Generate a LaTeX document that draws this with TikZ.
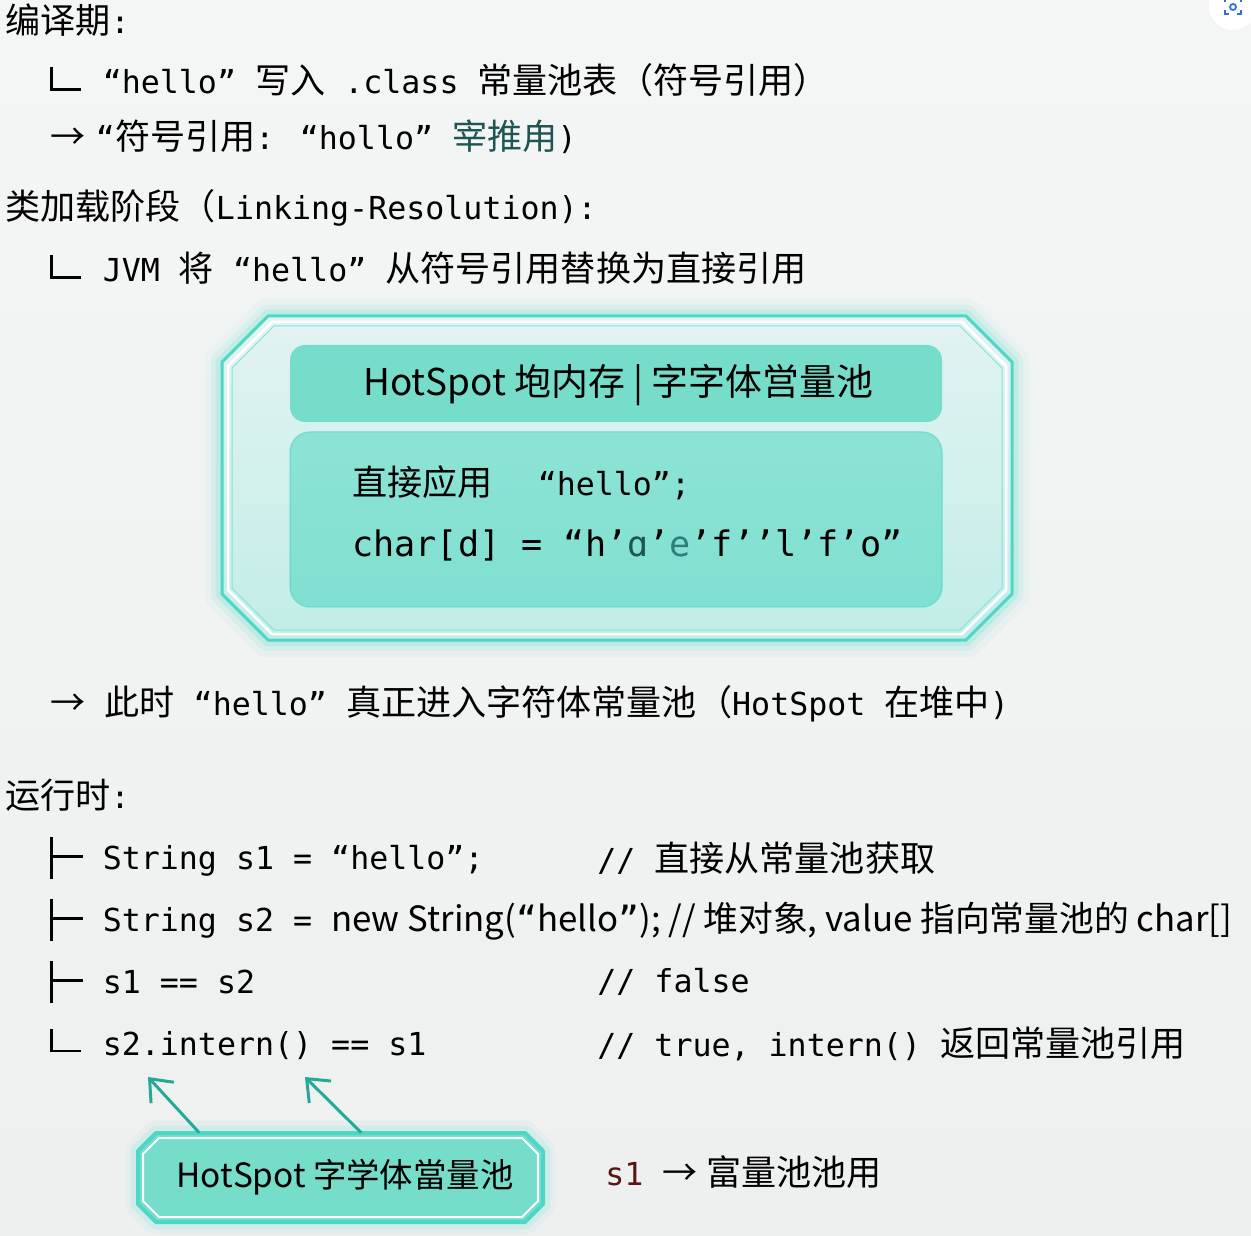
\documentclass[tikz,border=0pt]{standalone}
\usepackage{fontspec}
\setmainfont{DejaVu Sans Mono}
\newfontfamily\latinfont{DejaVu Sans Mono}
\newfontfamily\cjkfont{Noto Sans CJK SC}[Scale=1.11]
\newfontfamily\propfont{Noto Sans CJK SC}
\usepackage{tikz}
\usetikzlibrary{arrows.meta}

% switch to the CJK font for Chinese characters
\XeTeXinterchartokenstate=1
\newXeTeXintercharclass\cjkclass
\newcount\cjkidx
\cjkidx="3000
\loop \XeTeXcharclass\cjkidx=\cjkclass \ifnum\cjkidx<"303F \advance\cjkidx by 1 \repeat
\cjkidx="4E00
\loop \XeTeXcharclass\cjkidx=\cjkclass \ifnum\cjkidx<"9FFF \advance\cjkidx by 1 \repeat
\cjkidx="FF00
\loop \XeTeXcharclass\cjkidx=\cjkclass \ifnum\cjkidx<"FFEF \advance\cjkidx by 1 \repeat
\XeTeXcharclass"2192=\cjkclass
\XeTeXinterchartoks 0 \cjkclass = {\cjkfont}
\XeTeXinterchartoks 4095 \cjkclass = {\cjkfont}
\XeTeXinterchartoks \cjkclass 0 = {\latinfont}
\XeTeXinterchartoks \cjkclass 4095 = {\latinfont}

\definecolor{bgTop}{HTML}{F4F5F5}
\definecolor{bgBot}{HTML}{EEF0F0}
\definecolor{poolCyan}{HTML}{4DD8C6}
\definecolor{poolFill}{HTML}{76DDCB}
\definecolor{panelFill}{HTML}{80E0D1}
\definecolor{glassTop}{HTML}{E2F3F2}
\definecolor{glassBot}{HTML}{C2EDE7}
\definecolor{arrowTeal}{HTML}{22A997}
\definecolor{inkTeal}{HTML}{1F5552}
\definecolor{inkE}{HTML}{2E7F78}
\definecolor{sRed}{HTML}{5A1414}
\definecolor{iconBlue}{HTML}{2F6FD8}

% octagon with chamfered corners: x1, y1, x2, y2, chamfer
\newcommand{\octpath}[5]{({#1+#5},#2) -- ({#3-#5},#2) -- (#3,{#2+#5}) -- (#3,{#4-#5})
  -- ({#3-#5},#4) -- ({#1+#5},#4) -- (#1,{#4-#5}) -- (#1,{#2+#5}) -- cycle}
% tree branches
\newcommand{\branchT}{\makebox[19pt][l]{\vrule width 1.7pt height 18.5pt depth 5pt\vrule width 17pt height 8.4pt depth -6.8pt}}
\newcommand{\branchL}{\makebox[19pt][l]{\vrule width 1.5pt height 15pt depth -1.5pt\vrule width 16pt height 3pt depth -1.5pt}}

\tikzset{
  txt/.style={anchor=west, inner sep=0pt, font=\fontsize{18pt}{22pt}\selectfont},
  proptxt/.style={txt, font={\XeTeXinterchartokenstate=0 \propfont\fontsize{21pt}{25pt}\selectfont}},
  pointer/.style={draw=arrowTeal, line width=1.7pt, -{Straight Barb[length=0.38cm,width=0.62cm]}}
}

\begin{document}
\begin{tikzpicture}[x=0.02cm,y=-0.02cm]
            \shade[top color=bgTop, bottom color=bgBot] (0,0) rectangle (1251,1236);
            \useasboundingbox (0,0) rectangle (1251,1236);

            % corner icon
            \fill[white] (1233,6) circle (24);
            \begin{scope}[iconBlue, line width=1pt]
                \draw (1225,2) -- (1225,-2) -- (1229,-2);
                \draw (1241,2) -- (1241,-2) -- (1237,-2);
                \draw (1225,10) -- (1225,14) -- (1229,14);
                \draw (1241,10) -- (1241,14) -- (1237,14);
                \draw (1233,7) circle (3);
            \end{scope}

            % glass box of the heap
            \begin{scope}[line join=round]
                \foreach \w/\o in {0.7cm/0.06, 0.45cm/0.10, 0.25cm/0.16}
                    \draw[poolCyan, line width=\w, opacity=\o] \octpath{222}{316}{1012}{640}{46};
                \shade[top color=glassTop, bottom color=glassBot] \octpath{222}{316}{1012}{640}{46};
                \draw[poolCyan, line width=0.06cm] \octpath{222}{316}{1012}{640}{46};
                \draw[white, line width=0.05cm] \octpath{228}{322}{1006}{634}{44};
                \draw[poolCyan!70, line width=0.02cm] \octpath{232}{326}{1002}{630}{42};
                \fill[poolFill, rounded corners=0.3cm] (290,345) rectangle (942,422);
                \shade[top color=panelFill!90!white, bottom color=panelFill, rounded corners=0.4cm] (290,432) rectangle (942,607);
                \draw[poolCyan, opacity=0.5, line width=0.03cm, rounded corners=0.4cm] (290,432) rectangle (942,607);
            \end{scope}

            \begin{scope}[every node/.style={txt}]
                \node (compile) at (5,20) {编译期:};
                \node (write) at (50,80) {\branchL{} “hello” 写入 .class 常量池表（符号引用）};
                \node (symref) at (50,137) {→\hspace{6pt}“符号引用: “hollo” \textcolor{inkTeal}{宰推甪})};
                \node (linking) at (5,208) {类加载阶段（Linking-Resolution):};
                \node (replace) at (50,268) {\branchL{} JVM 将 “hello” 从符号引用替换为直接引用};
                \node[proptxt] (heap) at (363,385) {HotSpot 垉内存 | 字字体営量池};
                \node (direct) at (352,483) {直接应用\hspace{0.9cm}“hello”;};
                \node[font=\fontsize{20pt}{24pt}\selectfont] (chars) at (352,545) {char[d] = “h’\textcolor{inkTeal}{ɑ}’\textcolor{inkE}{e}’f’’l’f’o”};
                \node (enter) at (50,704) {→ 此时 “hello” 真正进入字符体常量池（HotSpot 在堆中)};
                \node (runtime) at (5,795) {运行时:};
                \node (s1) at (50,858) {\branchT{} String s1 = “hello”;};
                \node (s1c) at (597,858) {// 直接从常量池获取};
                \node (s2) at (50,920) {\branchT{} String s2 = {\XeTeXinterchartokenstate=0 \propfont\fontsize{19.8pt}{23pt}\selectfont
                    new String({\latinfont “}hello{\latinfont ”}); // 堆对象, value 指向常量池的 char[]}};
                \node (cmp) at (50,982) {\branchT{} s1 == s2};
                \node (cmpc) at (597,982) {// false};
                \node (intern) at (50,1044) {\branchL{} s2.intern() == s1};
                \node (internc) at (597,1044) {// true, intern() 返回常量池引用};
                \node (s1ref) at (605,1172) {\textcolor{sRed}{s1} →\hspace{5pt}富量池池用};
            \end{scope}

            % string pool box
            \begin{scope}[line join=round]
                \foreach \w/\o in {0.5cm/0.06, 0.3cm/0.12}
                    \draw[poolCyan, line width=\w, opacity=\o] \octpath{138}{1133}{543}{1222}{18};
                \fill[poolFill] \octpath{138}{1133}{543}{1222}{18};
                \draw[poolCyan, line width=0.08cm] \octpath{138}{1133}{543}{1222}{18};
                \draw[white, line width=0.04cm] \octpath{143}{1138}{538}{1217}{16};
                \draw[poolCyan!80, line width=0.02cm] \octpath{146}{1141}{535}{1214}{15};
            \end{scope}
            \node[proptxt, anchor=center, minimum width=8.1cm, minimum height=1.78cm,
                  font={\XeTeXinterchartokenstate=0 \propfont\fontsize{19pt}{23pt}\selectfont}] (pool) at (345,1177.5) {HotSpot 字学体當量池};

            \coordinate (tipA) at (148,1077);
            \coordinate (tipB) at (305,1077);
            \draw[pointer] ([xshift=1.14cm]pool.north west) -- (tipA);
            \draw[pointer] ([xshift=4.38cm]pool.north west) -- (tipB);

            \end{tikzpicture}
\end{document}
